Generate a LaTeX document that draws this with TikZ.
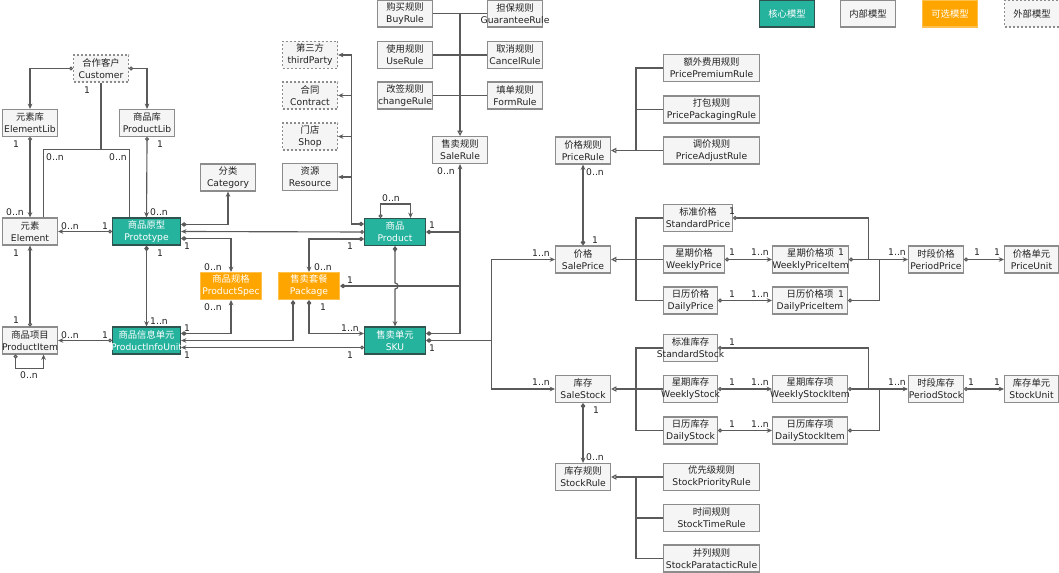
\documentclass[tikz,border=0pt]{standalone}
\usepackage{fontspec}
\setmainfont{DejaVu Sans}
\newfontfamily\cjk{Noto Sans CJK SC}
\usetikzlibrary{arrows.meta,calc}

\definecolor{coeur}{HTML}{25B39E}
\definecolor{coeurbord}{HTML}{2F5450}
\definecolor{opt}{HTML}{FFA500}
\definecolor{optbord}{HTML}{FFC04D}
\definecolor{fond}{HTML}{F5F5F5}
\definecolor{bordgris}{HTML}{8C8C8C}
\definecolor{trait}{HTML}{5A5A5A}
\definecolor{texte}{HTML}{222222}

% Texte chinois, puis libelle a deux lignes (le nom latin peut deborder)
\newcommand{\zhtxt}[1]{{\cjk\fontsize{7}{9}\selectfont #1}}
\newcommand{\libelle}[2]{\zhtxt{#1}\\\makebox[0pt]{#2}}

\begin{document}
\begin{tikzpicture}[x=0.75pt, y=-0.75pt, font=\fontsize{6.9}{9}\selectfont]
  % Styles des boites, des liens et des extremites
  \tikzset{
    fl/.tip={Stealth[length=4pt,width=3.5pt]},
    rond/.tip={Circle[open,length=3pt,width=3pt]},
    losange/.tip={Diamond[length=4.5pt,width=3.5pt]},
    herit/.tip={Triangle[open,length=4pt,width=4pt]},
    boite/.style={anchor=west, line width=0.8pt, minimum width=41.25pt,
      minimum height=20.25pt, inner sep=1pt, align=center},
    interne/.style={boite, draw=bordgris, fill=fond, text=texte},
    externe/.style={boite, draw=bordgris, fill=fond, text=texte,
      dash pattern=on 1.5pt off 1.5pt},
    noyau/.style={boite, draw=coeurbord, fill=coeur, text=white},
    option/.style={boite, draw=optbord, fill=opt, text=white},
    lien/.style={draw=trait, line width=0.85pt},
    mult/.style={text=texte, inner sep=0pt}
  }
  \useasboundingbox (0,0) rectangle (1059,573);

  % --- Legende ---
  \node[noyau] (leg1) at (759,13.5) {\zhtxt{核心模型}};
  \node[interne] (leg2) at (840,13.5) {\zhtxt{内部模型}};
  \node[option] (leg3) at (922,13.5) {\zhtxt{可选模型}};
  \node[externe] (leg4) at (1004,13.5) {\zhtxt{外部模型}};

  % --- Modele produit ---
  \node[externe] (customer) at (73,68.5) {\libelle{合作客户}{Customer}};
  \node[interne] (elementlib) at (2,123) {\libelle{元素库}{ElementLib}};
  \node[interne] (productlib) at (119,123) {\libelle{商品库}{ProductLib}};
  \node[interne] (category) at (200,177.5) {\libelle{分类}{Category}};
  \node[interne] (element) at (2,231.5) {\libelle{元素}{Element}};
  \node[noyau, minimum width=51pt] (prototype) at (112,231.5) {\libelle{商品原型}{Prototype}};
  \node[option, minimum width=45.75pt] (spec) at (200,286) {\libelle{商品规格}{ProductSpec}};
  \node[option, minimum width=45.75pt] (package) at (278,286) {\libelle{售卖套餐}{Package}};
  \node[interne] (item) at (2,340.5) {\libelle{商品项目}{ProductItem}};
  \node[noyau, minimum width=51pt] (infounit) at (112,340.5) {\libelle{商品信息单元}{ProductInfoUnit}};
  \node[noyau, minimum width=45.75pt] (product) at (364,232) {\libelle{商品}{Product}};
  \node[noyau, minimum width=45.75pt] (sku) at (364,340.5) {\libelle{售卖单元}{SKU}};

  % --- Modeles externes ---
  \node[externe] (third) at (282,55) {\libelle{第三方}{thirdParty}};
  \node[externe] (contract) at (282,95.5) {\libelle{合同}{Contract}};
  \node[externe] (shop) at (282,136.5) {\libelle{门店}{Shop}};
  \node[interne] (resource) at (282,177) {\libelle{资源}{Resource}};

  % --- Regles de vente ---
  \node[interne] (buyrule) at (377,13.5) {\libelle{购买规则}{BuyRule}};
  \node[interne] (guarantee) at (487,13.5) {\libelle{担保规则}{GuaranteeRule}};
  \node[interne] (userule) at (377,55) {\libelle{使用规则}{UseRule}};
  \node[interne] (cancelrule) at (487,55) {\libelle{取消规则}{CancelRule}};
  \node[interne] (changerule) at (377,95.5) {\libelle{改签规则}{changeRule}};
  \node[interne] (formrule) at (487,95.5) {\libelle{填单规则}{FormRule}};
  \node[interne] (salerule) at (432,150) {\libelle{售卖规则}{SaleRule}};

  % --- Prix ---
  \node[interne] (pricerule) at (555,150.5) {\libelle{价格规则}{PriceRule}};
  \node[interne, minimum width=72pt] (premium) at (663,68) {\libelle{额外费用规则}{PricePremiumRule}};
  \node[interne, minimum width=72pt] (packaging) at (663,109.5) {\libelle{打包规则}{PricePackagingRule}};
  \node[interne, minimum width=72pt] (adjust) at (663,150.5) {\libelle{调价规则}{PriceAdjustRule}};
  \node[interne] (saleprice) at (555,259.5) {\libelle{价格}{SalePrice}};
  \node[interne, minimum width=51.75pt] (stdprice) at (663,218) {\libelle{标准价格}{StandardPrice}};
  \node[interne, minimum width=45.75pt] (weekprice) at (663,259.5) {\libelle{星期价格}{WeeklyPrice}};
  \node[interne, minimum width=40.5pt] (dayprice) at (663,300.5) {\libelle{日历价格}{DailyPrice}};
  \node[interne, minimum width=57pt] (weekpitem) at (772,259.5) {\libelle{星期价格项}{WeeklyPriceItem}};
  \node[interne, minimum width=56.25pt] (daypitem) at (772,300.5) {\libelle{日历价格项}{DailyPriceItem}};
  \node[interne] (periodprice) at (908,259.5) {\libelle{时段价格}{PeriodPrice}};
  \node[interne, minimum width=40.5pt] (priceunit) at (1004,259.5) {\libelle{价格单元}{PriceUnit}};

  % --- Stock ---
  \node[interne] (salestock) at (555,389) {\libelle{库存}{SaleStock}};
  \node[interne, minimum width=40.5pt] (stdstock) at (663,348) {\libelle{标准库存}{StandardStock}};
  \node[interne, minimum width=40.5pt] (weekstock) at (663,389) {\libelle{星期库存}{WeeklyStock}};
  \node[interne, minimum width=40.5pt] (daystock) at (663,430.5) {\libelle{日历库存}{DailyStock}};
  \node[interne, minimum width=56.25pt] (weeksitem) at (772,389) {\libelle{星期库存项}{WeeklyStockItem}};
  \node[interne, minimum width=56.25pt] (daysitem) at (772,430.5) {\libelle{日历库存项}{DailyStockItem}};
  \node[interne] (periodstock) at (908,389) {\libelle{时段库存}{PeriodStock}};
  \node[interne, minimum width=40.5pt] (stockunit) at (1004,389) {\libelle{库存单元}{StockUnit}};
  \node[interne] (stockrule) at (555,477) {\libelle{库存规则}{StockRule}};
  \node[interne, minimum width=72pt] (priority) at (663,477) {\libelle{优先级规则}{StockPriorityRule}};
  \node[interne, minimum width=72pt] (timerule) at (663,518) {\libelle{时间规则}{StockTimeRule}};
  \node[interne, minimum width=72pt] (paratactic) at (663,558.5) {\libelle{并列规则}{StockParatacticRule}};

  % --- Liens du modele produit ---
  \draw[lien, {rond}-{fl}] (customer.west) -| (elementlib.north);
  \draw[lien, {rond}-{fl}] (customer.east) -| (productlib.north);
  \draw[lien] (customer.south) -- ++(0,67) coordinate (cj);
  \draw[lien] ($(element.north)+(13.5,0)$) |- (cj) -| ($(prototype.north)+(-17,0)$);
  \draw[lien, {rond}-{fl}] (elementlib.south) -- (element.north);
  \draw[lien, {rond}-{fl}] (productlib.south) -- (prototype.north);
  \draw[lien, {rond}-{fl}] (prototype.west) -- (element.east);
  \draw[lien, {losange}-{fl}] ($(prototype.east)+(0,-7)$) -| (category.south);
  \draw[lien, {rond}-{fl}] (product.west) -- (prototype.east);
  \draw[lien, {losange}-{fl}] ($(prototype.east)+(0,7)$) -| (spec.north);
  \draw[lien, {losange}-{fl}] ($(product.west)+(0,7)$) -| (package.north);
  \draw[lien, {losange}-{fl}] ($(product.west)+(0,-8)$) -| ($(third.east)+(13,0)$) -- (third.east);
  \draw[lien, -{fl}] ($(contract.east)+(13,0)$) -- (contract.east);
  \draw[lien, -{fl}] ($(shop.east)+(13,0)$) -- (shop.east);
  \draw[lien, -{fl}] ($(resource.east)+(13,0)$) -- (resource.east);
  \draw[lien, {losange}-{fl}] (prototype.south) -- (infounit.north);
  \draw[lien, {rond}-{fl}] (infounit.west) -- (item.east);
  \draw[lien, {rond}-{fl}] (item.north) -- (element.south);
  \draw[lien, {rond}-{fl}] ($(item.south)+(-14.5,0)$) -- ++(0,14) -| ($(item.south)+(13.5,0)$);
  \draw[lien, {losange}-{fl}] ($(infounit.east)+(0,-7)$) -| (spec.south);
  \draw[lien, {losange}-{fl}] ($(package.south)+(-16,0)$) |- (infounit.east);
  \draw[lien, {rond}-{fl}] ($(sku.west)+(0,7)$) -- ($(infounit.east)+(0,7)$);
  \draw[lien, {losange}-{fl}] (package.south) |- ($(sku.west)+(0,-7)$);
  \coordinate (hop) at (product.south |- package.east);
  \draw[lien, {losange}-{fl}] (product.south) -- ($(hop)+(0,-3)$)
    .. controls ($(hop)+(4,-3)$) and ($(hop)+(4,3)$) .. ($(hop)+(0,3)$) -- (sku.north);
  \draw[lien, {rond}-{fl}] ($(product.north)+(-14.5,0)$) -- ++(0,-14) -| ($(product.north)+(15.5,0)$);

  % --- Regles de vente ---
  \draw[lien, -{herit}] (buyrule.east -| salerule.north) -- (salerule.north);
  \draw[lien] (buyrule.east) -- (guarantee.west);
  \draw[lien] (userule.east) -- (cancelrule.west);
  \draw[lien] (changerule.east) -- (formrule.west);
  \draw[lien, {losange}-{fl}] (product.east) -| (salerule.south);
  \draw[lien, {losange}-] ($(sku.east)+(0,-7)$) -| (salerule.south |- product.east);
  \draw[lien, {losange}-] (package.east) -- (package.east -| salerule.south);

  % --- SKU vers prix et stock ---
  \draw[lien, {losange}-] (sku.east) -- ++(65,0) coordinate (sj);
  \draw[lien, -{fl}] (sj) |- (saleprice.west);
  \draw[lien, -{fl}] (sj) |- (salestock.west);

  % --- Prix ---
  \draw[lien, {losange}-{fl}] (saleprice.north) -- (pricerule.south);
  \draw[lien, -{herit}] (adjust.west) -- (pricerule.east);
  \draw[lien] (premium.west) -| ($(adjust.west)+(-27,0)$);
  \draw[lien] (packaging.west) -- ++(-27,0);
  \draw[lien, -{herit}] (weekprice.west) -- (saleprice.east);
  \draw[lien] (stdprice.west) -| ($(dayprice.west)+(-27,0)$) -- (dayprice.west);
  \draw[lien, {rond}-{fl}] (weekprice.east) -- (weekpitem.west);
  \draw[lien, {rond}-{fl}] (dayprice.east) -- (daypitem.west);
  \draw[lien, {rond}-{fl}] (weekpitem.east) -- (periodprice.west);
  \draw[lien, {rond}-] (stdprice.east) -| ($(weekpitem.east)+(19,0)$);
  \draw[lien, {rond}-] (daypitem.east) -| ($(weekpitem.east)+(30,0)$);
  \draw[lien, {rond}-{fl}] (periodprice.east) -- (priceunit.west);

  % --- Stock ---
  \draw[lien, {losange}-{fl}] (salestock.south) -- (stockrule.north);
  \draw[lien, -{herit}] (weekstock.west) -- (salestock.east);
  \draw[lien] (stdstock.west) -| ($(daystock.west)+(-27,0)$) -- (daystock.west);
  \draw[lien, {rond}-{fl}] (weekstock.east) -- (weeksitem.west);
  \draw[lien, {rond}-{fl}] (daystock.east) -- (daysitem.west);
  \draw[lien, {rond}-{fl}] (weeksitem.east) -- (periodstock.west);
  \draw[lien, {rond}-] (stdstock.east) -| ($(weeksitem.east)+(20,0)$);
  \draw[lien, {rond}-] (daysitem.east) -| ($(weeksitem.east)+(31,0)$);
  \draw[lien, {rond}-{fl}] (periodstock.east) -- (stockunit.west);
  \draw[lien, -{herit}] (priority.west) -- (stockrule.east);
  \draw[lien] (paratactic.west) -| ($(priority.west)+(-27,0)$);
  \draw[lien] (timerule.west) -- ++(-27,0);

  % --- Multiplicites ---
  \node[mult] (m1) at (87,90) {1};
  \node[mult] (m2) at (16,144) {1};
  \node[mult] (m3) at (160,144) {1};
  \node[mult] (m4) at (55,157) {0..n};
  \node[mult] (m5) at (118,157) {0..n};
  \node[mult] (m6) at (15,212) {0..n};
  \node[mult] (m7) at (159,212) {0..n};
  \node[mult] (m8) at (70,226) {0..n};
  \node[mult] (m9) at (105,226) {1};
  \node[mult] (m10) at (16,253) {1};
  \node[mult] (m11) at (160,253) {1};
  \node[mult] (m12) at (187,246) {1};
  \node[mult] (m13) at (213,267) {0..n};
  \node[mult] (m14) at (323,267) {0..n};
  \node[mult] (m15) at (350,246) {1};
  \node[mult] (m16) at (350,280) {1};
  \node[mult] (m17) at (213,307) {0..n};
  \node[mult] (m18) at (323,307) {1};
  \node[mult] (m19) at (16,320) {1};
  \node[mult] (m20) at (159,321) {1..n};
  \node[mult] (m21) at (70,335) {0..n};
  \node[mult] (m22) at (105,335) {1};
  \node[mult] (m23) at (187,328) {1};
  \node[mult] (m24) at (350,328) {1..n};
  \node[mult] (m25) at (187,355) {1};
  \node[mult] (m26) at (350,355) {1};
  \node[mult] (m27) at (29,375) {0..n};
  \node[mult] (m28) at (446,171) {0..n};
  \node[mult] (m29) at (391,198) {0..n};
  \node[mult] (m30) at (432,225) {1};
  \node[mult] (m31) at (432,348) {1};
  \node[mult] (m32) at (541,253) {1..n};
  \node[mult] (m33) at (541,382) {1..n};
  \node[mult] (m34) at (595,172) {0..n};
  \node[mult] (m35) at (595,240) {1};
  \node[mult] (m36) at (732,211) {1};
  \node[mult] (m37) at (732,252) {1};
  \node[mult] (m38) at (760,252) {1..n};
  \node[mult] (m39) at (732,294) {1};
  \node[mult] (m40) at (760,294) {1..n};
  \node[mult] (m41) at (841,252) {1};
  \node[mult] (m42) at (841,294) {1};
  \node[mult] (m43) at (897,252) {1..n};
  \node[mult] (m44) at (977,252) {1};
  \node[mult] (m45) at (997,252) {1};
  \node[mult] (m46) at (732,342) {1};
  \node[mult] (m47) at (732,382) {1};
  \node[mult] (m48) at (760,382) {1..n};
  \node[mult] (m49) at (732,424) {1};
  \node[mult] (m50) at (760,424) {1..n};
  \node[mult] (m51) at (596,410) {1};
  \node[mult] (m52) at (897,382) {1..n};
  \node[mult] (m53) at (971,382) {1};
  \node[mult] (m54) at (997,382) {1};
  \node[mult] (m55) at (595,457) {0..n};
\end{tikzpicture}
\end{document}
